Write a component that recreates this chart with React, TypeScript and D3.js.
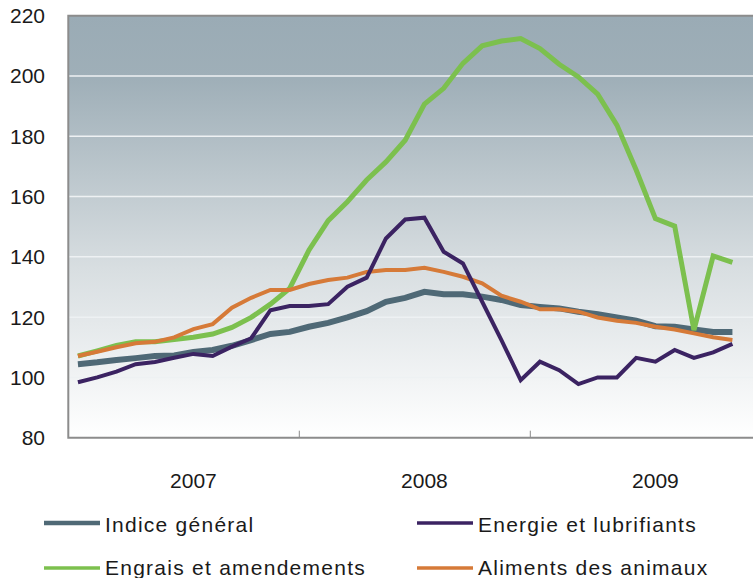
import React from "react";
import * as d3 from "d3";

const months = [
  "2007-01","2007-02","2007-03","2007-04","2007-05","2007-06","2007-07","2007-08","2007-09","2007-10","2007-11","2007-12",
  "2008-01","2008-02","2008-03","2008-04","2008-05","2008-06","2008-07","2008-08","2008-09","2008-10","2008-11","2008-12",
  "2009-01","2009-02","2009-03","2009-04","2009-05","2009-06","2009-07","2009-08","2009-09","2009-10","2009-11",
];
const yearLabels = ["2007", "2008", "2009"];
const yTicks = [80, 100, 120, 140, 160, 180, 200, 220];

const indiceGeneral = [104.4,105.0,105.8,106.4,107.1,107.3,108.4,109.1,110.5,112.4,114.4,115.1,116.8,118.1,119.9,122.0,125.1,126.4,128.4,127.6,127.6,126.8,125.7,124.0,123.4,122.9,121.8,121.0,119.9,118.8,117.0,116.8,115.9,115.1,115.1];
const energie = [98.4,100.0,101.9,104.4,105.1,106.5,107.8,107.1,110.2,113.0,122.3,123.7,123.7,124.3,130.1,133.1,146.1,152.4,153.0,141.7,137.8,125.1,112.4,99.1,105.2,102.4,97.8,100.0,100.0,106.5,105.2,109.1,106.5,108.3,111.1];
const engrais = [107.1,108.8,110.6,111.8,111.8,112.6,113.3,114.4,116.6,119.9,124.3,129.5,142.2,152.0,158.3,165.5,171.5,178.7,190.7,195.9,204.2,210.0,211.6,212.4,209.1,203.9,199.7,194.0,183.7,168.8,152.7,150.2,115.7,140.3,138.2];
const aliments = [107.1,108.5,110.0,111.3,111.8,113.3,116.0,117.7,123.1,126.4,129.0,129.0,131.0,132.3,133.1,135.0,135.6,135.6,136.4,135.0,133.4,131.2,127.1,125.1,122.6,122.6,121.8,119.9,118.8,118.1,116.8,115.9,114.6,113.3,112.4];

const seriesNames = ["Indice général", "Energie et lubrifiants", "Engrais et amendements", "Aliments des animaux"];
const seriesColors = ["#4f6976", "#3b2362", "#7cc04e", "#d67a38"];

export default function App() {
  const W = 753, H = 578;
  const left = 68.3, top = 15.7, bottom = 437.7;
  const x = d3.scaleLinear().domain([0, 36]).range([left, left + 36 * 19.25]);
  const y = d3.scaleLinear().domain([80, 220]).range([bottom, top]);
  const right = x(36);

  const series = [
    { name: seriesNames[0], data: indiceGeneral, color: seriesColors[0], w: 6 },
    { name: seriesNames[2], data: engrais, color: seriesColors[2], w: 5 },
    { name: seriesNames[3], data: aliments, color: seriesColors[3], w: 4 },
    { name: seriesNames[1], data: energie, color: seriesColors[1], w: 4 },
  ];
  const line = d3.line<number>().x((_, i) => x(i + 0.5)).y((v) => y(v));

  const legend = [
    { name: seriesNames[0], color: seriesColors[0], lw: 4.5, lx: 44, ly: 523, ty: 532 },
    { name: seriesNames[1], color: seriesColors[1], lw: 3.5, lx: 417, ly: 523, ty: 532 },
    { name: seriesNames[2], color: seriesColors[2], lw: 3.5, lx: 44, ly: 568, ty: 575 },
    { name: seriesNames[3], color: seriesColors[3], lw: 3.5, lx: 417, ly: 568, ty: 575 },
  ];
  const font = "'Liberation Sans', Arial, sans-serif";

  return (
    <svg width={W} height={H} style={{ position: "absolute", left: 0, top: 0, background: "#fff" }}>
      <defs>
        <linearGradient id="bg" x1="0" y1="0" x2="0" y2="1">
          <stop offset="0" stopColor="#9aabb5" />
          <stop offset="0.15" stopColor="#9fafb8" />
          <stop offset="0.6" stopColor="#d8dee1" />
          <stop offset="1" stopColor="#ffffff" />
        </linearGradient>
        <clipPath id="plotclip">
          <rect x={left} y={top} width={right - left} height={bottom - top} />
        </clipPath>
      </defs>
      <rect x={left} y={top} width={right - left} height={bottom - top} fill="url(#bg)" />
      {yTicks.filter((t) => t > 80 && t < 220).map((t) => (
        <line key={t} x1={left} x2={right} y1={y(t)} y2={y(t)} stroke="#eef1f3" strokeWidth={1.5} />
      ))}
      {[12, 24].map((m) => (
        <line key={m} x1={x(m)} x2={x(m)} y1={bottom} y2={bottom - 7} stroke="#8a8a8a" strokeWidth={1} />
      ))}
      <g clipPath="url(#plotclip)">
        {series.map((s) => (
          <path key={s.name} d={line(s.data) || ""} fill="none" stroke={s.color} strokeWidth={s.w} strokeLinejoin="miter" strokeMiterlimit={2} />
        ))}
      </g>
      <path d={`M${right},${top}H${left}V${bottom}H${right}`} fill="none" stroke="#8c8c8c" strokeWidth={2} />
      {yTicks.map((t) => (
        <text key={t} x={45} y={y(t) + 7.5} textAnchor="end" fontFamily={font} fontSize={21} fill="#1a1a1a">
          {t}
        </text>
      ))}
      {yearLabels.map((lab, i) => (
        <text key={lab} x={x(6.5 + 12 * i)} y={488} textAnchor="middle" fontFamily={font} fontSize={21} fill="#1a1a1a">
          {lab}
        </text>
      ))}
      {legend.map((l) => (
        <g key={l.name}>
          <line x1={l.lx} x2={l.lx + 56} y1={l.ly} y2={l.ly} stroke={l.color} strokeWidth={l.lw} />
          <text x={l.lx + 61} y={l.ty} fontFamily={font} fontSize={21} letterSpacing={1.25} fill="#1a1a1a">
            {l.name}
          </text>
        </g>
      ))}
    </svg>
  );
}
